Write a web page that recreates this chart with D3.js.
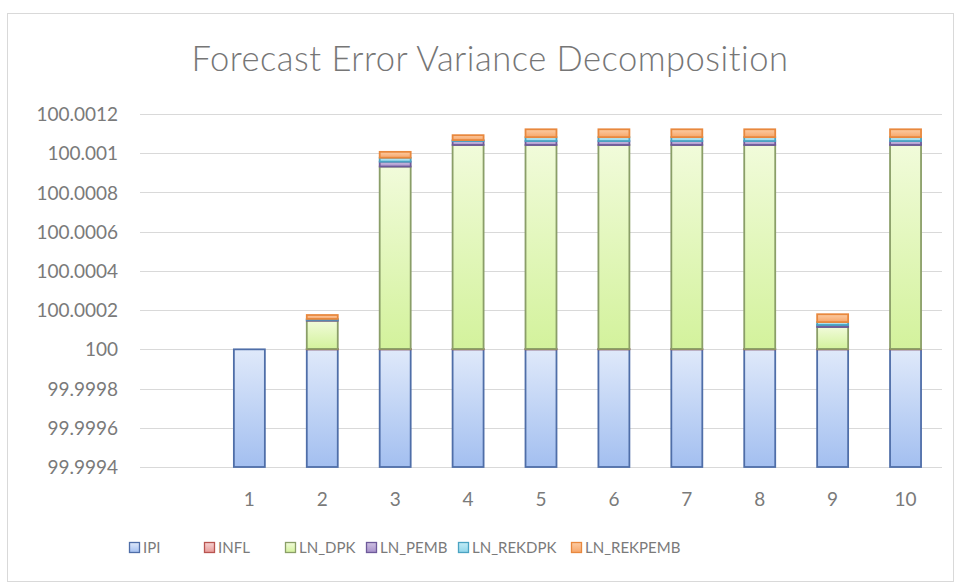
<!DOCTYPE html>
<html>
<head>
<meta charset="utf-8">
<script src="https://cdn.jsdelivr.net/npm/d3@7"></script>
<style>
  html, body { margin: 0; padding: 0; background: #ffffff; }
  svg { display: block; }
  text { font-family: Lato, "Open Sans", "DejaVu Sans", sans-serif; }
</style>
</head>
<body>
<svg id="chart" width="959" height="584"></svg>
<script>
// ---------------- data ----------------
const periods = ["1", "2", "3", "4", "5", "6", "7", "8", "9", "10"];
const seriesNames = ["IPI", "INFL", "LN_DPK", "LN_PEMB", "LN_REKDPK", "LN_REKPEMB"];
const IPI        = [100, 100, 100, 100, 100, 100, 100, 100, 100, 100];
const INFL       = [0, 0.000002, 0.000002, 0.000002, 0.000002, 0.000002, 0.000002, 0.000002, 0.000002, 0.000002];
const LN_DPK     = [0, 0.000144, 0.000930, 0.001040, 0.001040, 0.001040, 0.001040, 0.001040, 0.000112, 0.001040];
const LN_PEMB    = [0, 0.000005, 0.000025, 0.000020, 0.000020, 0.000020, 0.000020, 0.000020, 0.000010, 0.000020];
const LN_REKDPK  = [0, 0.000004, 0.000020, 0.000005, 0.000020, 0.000020, 0.000020, 0.000020, 0.000015, 0.000020];
const LN_REKPEMB = [0, 0.000020, 0.000030, 0.000025, 0.000040, 0.000040, 0.000040, 0.000040, 0.000040, 0.000040];
const yTickLabels = ["99.9994", "99.9996", "99.9998", "100", "100.0002", "100.0004",
                     "100.0006", "100.0008", "100.001", "100.0012"];
const title = "Forecast Error Variance Decomposition";

// ---------------- styles ----------------
const palette = {
  IPI:        { top: "#dfe9fa", bottom: "#a3bff0", stroke: "#4f6ea8" },
  INFL:       { top: "#f6d2d1", bottom: "#e79a98", stroke: "#b85450" },
  LN_DPK:     { top: "#f1fbda", bottom: "#d3f29c", stroke: "#8a9e68" },
  LN_PEMB:    { top: "#cfc1e3", bottom: "#a690c9", stroke: "#6e5a9a" },
  LN_REKDPK:  { top: "#c4ecf6", bottom: "#8fd6ea", stroke: "#4aa3c2" },
  LN_REKPEMB: { top: "#fccca4", bottom: "#f7a669", stroke: "#e8883e" }
};
const textColor = "#7a7a7a";

const svg = d3.select("#chart");
const plot = { left: 140, right: 942, top: 114, bottom: 467 };

// chart area border
svg.append("rect")
  .attr("x", 7.5).attr("y", 13.5).attr("width", 946).attr("height", 568)
  .attr("fill", "#ffffff").attr("stroke", "#d9d9d9").attr("stroke-width", 1);

// gradients
const defs = svg.append("defs");
seriesNames.forEach(name => {
  const g = defs.append("linearGradient")
    .attr("id", "grad-" + name)
    .attr("x1", 0).attr("y1", 0).attr("x2", 0).attr("y2", 1);
  g.append("stop").attr("offset", "0%").attr("stop-color", palette[name].top);
  g.append("stop").attr("offset", "100%").attr("stop-color", palette[name].bottom);
});

// scales
const step = (plot.right - plot.left) / (periods.length + 1);
const x = d3.scaleBand()
  .domain(periods)
  .range([plot.left + step, plot.right])
  .paddingInner(0.575)
  .paddingOuter(0.2875);

const yTicks = yTickLabels.map(Number);
const y = d3.scaleLinear()
  .domain([yTicks[0], yTicks[yTicks.length - 1]])
  .range([plot.bottom, plot.top])
  .clamp(true);

// gridlines
svg.append("g")
  .selectAll("line")
  .data(yTicks)
  .join("line")
  .attr("x1", plot.left).attr("x2", plot.right)
  .attr("y1", d => Math.round(y(d)) + 0.5).attr("y2", d => Math.round(y(d)) + 0.5)
  .attr("stroke", "#d9d9d9").attr("stroke-width", 1);

// y axis labels
const yAxis = d3.axisLeft(y)
  .tickValues(yTicks)
  .tickSize(0)
  .tickPadding(0)
  .tickFormat((d, i) => yTickLabels[i]);
const yg = svg.append("g").attr("transform", "translate(118,0)").call(yAxis);
yg.select(".domain").remove();
yg.selectAll("text")
  .attr("fill", textColor)
  .style("font-size", "19px")
  .style("font-family", "Lato, 'Open Sans', sans-serif")
  .attr("dy", "0.35em");

// x axis labels
const xAxis = d3.axisBottom(x).tickSize(0).tickPadding(0);
const xg = svg.append("g").attr("transform", `translate(0,${plot.bottom})`).call(xAxis);
xg.select(".domain").remove();
xg.selectAll("text")
  .attr("fill", textColor)
  .style("font-size", "19px")
  .style("font-family", "Lato, 'Open Sans', sans-serif")
  .attr("y", 39)
  .attr("dy", 0);

// stacked data
const rows = periods.map((p, i) => ({
  period: p,
  IPI: IPI[i], INFL: INFL[i], LN_DPK: LN_DPK[i],
  LN_PEMB: LN_PEMB[i], LN_REKDPK: LN_REKDPK[i], LN_REKPEMB: LN_REKPEMB[i]
}));
const stacked = d3.stack().keys(seriesNames)(rows);

const barG = svg.append("g");
stacked.forEach(layer => {
  const name = layer.key;
  barG.append("g")
    .selectAll("rect")
    .data(layer.filter(d => d[1] - d[0] > 0))
    .join("rect")
    .attr("x", d => x(d.data.period))
    .attr("width", x.bandwidth())
    .attr("y", d => y(d[1]))
    .attr("height", d => Math.max(0, y(d[0]) - y(d[1])))
    .attr("fill", `url(#grad-${name})`)
    .attr("stroke", palette[name].stroke)
    .attr("stroke-width", 1.8);
});

// title (fit to measured width)
const t = svg.append("text")
  .attr("x", 490).attr("y", 71)
  .attr("text-anchor", "middle")
  .attr("fill", "#767676")
  .style("font-size", "30px")
  .style("font-weight", 300)
  .style("letter-spacing", "0.5px")
  .text(title);
const tw = t.node().getComputedTextLength();
const targetTitle = 600;
t.style("font-size", (30 * targetTitle / tw).toFixed(2) + "px");

// legend
const legendX = [129, 204, 285, 366, 458, 571];
const legendY = 548;
const lg = svg.append("g");
seriesNames.forEach((name, i) => {
  const gi = lg.append("g").attr("transform", `translate(${legendX[i]},${legendY})`);
  gi.append("rect")
    .attr("x", 0.5).attr("y", -5.5).attr("width", 10).attr("height", 10)
    .attr("fill", `url(#grad-${name})`)
    .attr("stroke", palette[name].stroke).attr("stroke-width", 1.3);
  gi.append("text")
    .attr("x", 14).attr("y", 0).attr("dy", "0.36em")
    .attr("fill", textColor)
    .style("font-size", "15px")
    .text(name);
});
</script>
</body>
</html>
